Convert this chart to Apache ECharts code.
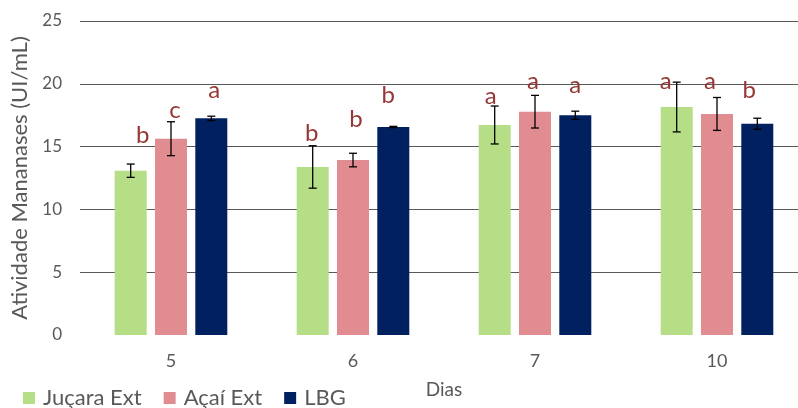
<!DOCTYPE html>
<html>
<head>
<meta charset="utf-8">
<script src="https://cdn.jsdelivr.net/npm/echarts@6/dist/echarts.min.js"></script>
<style>
  html, body { margin: 0; padding: 0; background: #fff; overflow: hidden; }
  #chart { width: 808px; height: 408px; }
</style>
</head>
<body>
<div id="chart"></div>
<script>
// Dias de fermentação
const dias = ['5', '6', '7', '10'];

// Atividade média (UI/mL) e desvio padrão
const jucaraExt = [13.08, 13.38, 16.72, 18.15];
const jucaraErr = [0.53, 1.69, 1.51, 1.98];
const acaiExt = [15.63, 13.93, 17.78, 17.60];
const acaiErr = [1.35, 0.54, 1.30, 1.31];
const lbg = [17.25, 16.56, 17.49, 16.82];
const lbgErr = [0.17, 0.05, 0.33, 0.44];

// Letras do teste de médias e a altura (UI/mL) em que cada uma aparece
const letrasJucara = ['b', 'b', 'a', 'a'];
const alturaJucara = [15.87, 16.06, 18.97, 20.17];
const letrasAcai = ['c', 'b', 'a', 'a'];
const alturaAcai = [17.86, 17.17, 20.17, 20.17];
const letrasLbg = ['a', 'b', 'a', 'b'];
const alturaLbg = [19.45, 19.10, 19.90, 19.50];

const seriesNames = ['Juçara Ext', 'Açaí Ext', 'LBG'];
const colors = ['#b5de86', '#e08c91', '#002060'];
const FONT = 'Lato';
const BAR_W = 32;
const BAR_GAP_PX = 8.3;

// Pequeno ajuste horizontal (px) das letras para não tocar as barras de erro
const letterNudge = [
  [12, -1, -4, -11],
  [4, 3, -2, -7],
  [3, -5, 0, -8]
];

const means = [jucaraExt, acaiExt, lbg];
const errs = [jucaraErr, acaiErr, lbgErr];
const letters = [letrasJucara, letrasAcai, letrasLbg];
const heights = [alturaJucara, alturaAcai, alturaLbg];

function barOffset(k) {
  return (k - 1) * (BAR_W + BAR_GAP_PX);
}

const series = [];
means.forEach((vals, k) => {
  series.push({
    name: seriesNames[k],
    type: 'bar',
    data: vals,
    barWidth: BAR_W,
    barGap: (BAR_GAP_PX / BAR_W * 100) + '%',
    itemStyle: { color: colors[k] },
    z: 2
  });
});

// Barras de erro (média ± desvio)
means.forEach((vals, k) => {
  series.push({
    type: 'custom',
    name: 'err' + k,
    data: vals.map((v, i) => [i, v - errs[k][i], v + errs[k][i]]),
    encode: { x: 0, y: [1, 2] },
    z: 5,
    silent: true,
    renderItem: function (params, api) {
      const lo = api.coord([api.value(0), api.value(1)]);
      const hi = api.coord([api.value(0), api.value(2)]);
      const x = lo[0] + barOffset(k);
      const cap = 4;
      const style = { stroke: '#000', lineWidth: 1.3, fill: null };
      return {
        type: 'group',
        children: [
          { type: 'line', shape: { x1: x, y1: lo[1], x2: x, y2: hi[1] }, style },
          { type: 'line', shape: { x1: x - cap, y1: lo[1], x2: x + cap, y2: lo[1] }, style },
          { type: 'line', shape: { x1: x - cap, y1: hi[1], x2: x + cap, y2: hi[1] }, style }
        ]
      };
    }
  });
});

// Letras de significância
letters.forEach((ls, k) => {
  series.push({
    type: 'custom',
    name: 'letras' + k,
    data: ls.map((l, i) => [i, heights[k][i], l]),
    encode: { x: 0, y: 1 },
    z: 6,
    silent: true,
    renderItem: function (params, api) {
      const i = params.dataIndex;
      const p = api.coord([api.value(0), api.value(1)]);
      return {
        type: 'text',
        x: p[0] + barOffset(k) + letterNudge[k][i],
        y: p[1],
        style: {
          text: ls[i],
          fill: '#953735',
          font: '24px ' + FONT,
          align: 'center',
          verticalAlign: 'middle'
        }
      };
    }
  });
});

const chart = echarts.init(document.getElementById('chart'), null, { renderer: 'canvas' });
chart.setOption({
  animation: false,
  backgroundColor: '#fff',
  textStyle: { fontFamily: FONT },
  grid: { left: 80, top: 21, right: 0, height: 314, containLabel: false },
  legend: {
    data: seriesNames,
    left: 18,
    top: 382,
    itemWidth: 12,
    itemHeight: 12,
    itemGap: 22,
    icon: 'rect',
    textStyle: { fontSize: 22, color: '#595959', fontFamily: FONT, padding: [0, 0, 0, 3] }
  },
  xAxis: {
    type: 'category',
    data: dias,
    name: 'Dias',
    nameLocation: 'middle',
    nameGap: 45,
    nameTextStyle: { fontSize: 19, color: '#595959', fontFamily: FONT },
    axisLine: { show: false },
    axisTick: { show: false },
    axisLabel: { fontSize: 18, color: '#595959', margin: 17, fontFamily: FONT }
  },
  yAxis: {
    type: 'value',
    min: 0,
    max: 25,
    interval: 5,
    name: 'Atividade Mananases (UI/mL)',
    nameLocation: 'middle',
    nameGap: 47,
    nameTextStyle: { fontSize: 22, color: '#595959', fontFamily: FONT },
    axisLine: { show: false },
    axisTick: { show: false },
    axisLabel: { fontSize: 17, color: '#595959', margin: 18, fontFamily: FONT },
    splitLine: { show: true, showMinLine: false, lineStyle: { color: '#595959', width: 1 } }
  },
  series: series
});
</script>
</body>
</html>
